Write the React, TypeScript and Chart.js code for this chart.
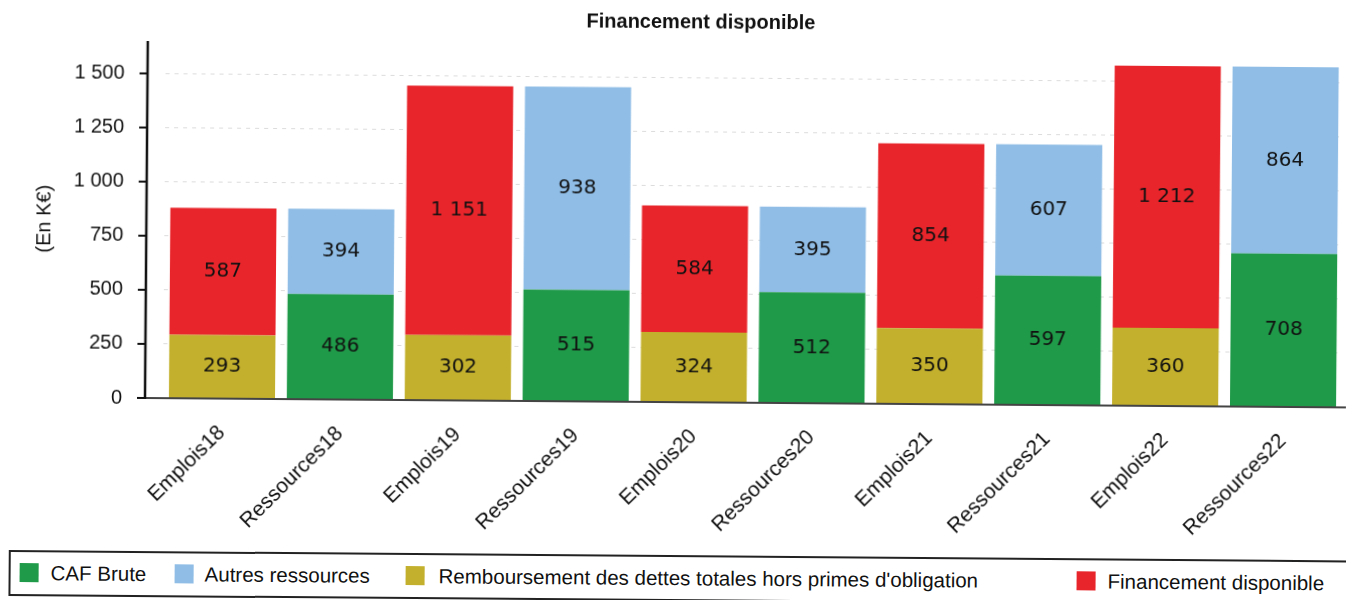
import React, { useEffect, useRef } from "react";
import { Chart, registerables } from "chart.js";

Chart.register(...registerables);

const categories = [
  "Emplois18", "Ressources18", "Emplois19", "Ressources19", "Emplois20",
  "Ressources20", "Emplois21", "Ressources21", "Emplois22", "Ressources22",
];
const cafBrute = [null, 486, null, 515, null, 512, null, 597, null, 708];
const autresRessources = [null, 394, null, 938, null, 395, null, 607, null, 864];
const remboursement = [293, null, 302, null, 324, null, 350, null, 360, null];
const financement = [587, null, 1151, null, 584, null, 854, null, 1212, null];

const chartTitle = "Financement disponible";
const seriesLabels = [
  "CAF Brute",
  "Autres ressources",
  "Remboursement des dettes totales hors primes d'obligation",
  "Financement disponible",
];
const seriesColors = ["#1f9a48", "#8fbde6", "#c3b02c", "#e8252b"];
const yTicks = [0, 250, 500, 750, 1000, 1250, 1500];
const yMax = 1650;
const legendPositions = [
  { box: 21, text: 52 },
  { box: 176, text: 206 },
  { box: 407, text: 440 },
  { box: 1078, text: 1109 },
];

const fmt = (v: number) => String(Math.round(v)).replace(/\B(?=(\d{3})+(?!\d))/g, " ");

const titlePlugin = {
  id: "customTitle",
  afterDraw(chart: any) {
    const { ctx } = chart;
    ctx.save();
    ctx.font = 'bold 20px "Liberation Sans", Arial, sans-serif';
    ctx.fillStyle = "#111";
    ctx.textAlign = "center";
    ctx.textBaseline = "middle";
    ctx.fillText(chartTitle, 698, 18);
    ctx.restore();
  },
};

const axisPlugin = {
  id: "axisLines",
  afterDatasetsDraw(chart: any) {
    const { ctx, chartArea } = chart;
    const yScale = chart.scales.y;
    const axX = chartArea.left - 18;
    ctx.save();
    ctx.strokeStyle = "#444";
    ctx.lineWidth = 2;
    ctx.beginPath();
    ctx.moveTo(axX - 8, chartArea.bottom);
    ctx.lineTo(chart.width, chartArea.bottom);
    ctx.stroke();
    ctx.strokeStyle = "#111";
    ctx.lineWidth = 2.5;
    ctx.beginPath();
    ctx.moveTo(axX, chartArea.top);
    ctx.lineTo(axX, chartArea.bottom + 1);
    ctx.stroke();
    ctx.lineWidth = 2;
    yTicks.forEach((t) => {
      const py = yScale.getPixelForValue(t);
      ctx.beginPath();
      ctx.moveTo(axX - 8, py);
      ctx.lineTo(axX, py);
      ctx.stroke();
    });
    ctx.restore();
  },
};

const labelPlugin = {
  id: "valueLabels",
  afterDatasetsDraw(chart: any) {
    const { ctx } = chart;
    ctx.save();
    ctx.font = '20px "DejaVu Sans"';
    ctx.fillStyle = "#111";
    ctx.textAlign = "center";
    ctx.textBaseline = "middle";
    chart.data.datasets.forEach((ds: any, di: number) => {
      const meta = chart.getDatasetMeta(di);
      meta.data.forEach((el: any, i: number) => {
        const v = ds.data[i];
        if (v === null || v === undefined) return;
        ctx.fillText(fmt(v), el.x, (el.y + el.base) / 2);
      });
    });
    ctx.restore();
  },
};

export default function App() {
  const canvasRef = useRef<HTMLCanvasElement | null>(null);

  useEffect(() => {
    if (!canvasRef.current) return;
    Chart.defaults.font.family = '"Liberation Sans", Arial, sans-serif';
    Chart.defaults.color = "#111";
    const seriesData = [cafBrute, autresRessources, remboursement, financement];
    const chart = new Chart(canvasRef.current, {
      type: "bar",
      data: {
        labels: categories,
        datasets: seriesLabels.map((label, i) => ({
          label,
          data: seriesData[i],
          backgroundColor: seriesColors[i],
          borderWidth: 0,
          barPercentage: 0.9,
          categoryPercentage: 1,
        })),
      },
      options: {
        responsive: false,
        animation: false,
        layout: { autoPadding: false, padding: { left: 0, right: 4, top: 41, bottom: 0 } },
        plugins: {
          legend: { display: false },
          tooltip: { enabled: false },
          title: { display: false },
        },
        scales: {
          x: {
            stacked: true,
            grid: { display: false },
            border: { display: false },
            ticks: {
              font: { size: 21 },
              color: "#111",
              maxRotation: 45,
              minRotation: 45,
              autoSkip: false,
              padding: 14,
            },
            afterFit: (scale: any) => {
              scale.height = 150;
              scale.paddingLeft = 0;
              scale.paddingRight = 0;
            },
          },
          y: {
            stacked: true,
            min: 0,
            max: yMax,
            afterBuildTicks: (scale: any) => {
              scale.ticks = yTicks.map((v) => ({ value: v }));
            },
            grid: { color: "#dcdcdc", drawTicks: false, lineWidth: 1 },
            border: { display: false, dash: [4, 5] },
            ticks: {
              font: { size: 20 },
              color: "#111",
              padding: 41,
              callback: (v: any) => fmt(Number(v)),
            },
            title: {
              display: true,
              text: "(En K€)",
              font: { size: 20 },
              color: "#111",
              padding: { top: 31, bottom: 0 },
            },
            afterFit: (scale: any) => {
              scale.width = 163;
              scale.paddingTop = 0;
              scale.paddingBottom = 0;
            },
          },
        },
      },
      plugins: [axisPlugin, labelPlugin, titlePlugin],
    } as any);
    return () => chart.destroy();
  }, []);

  return (
    <div
      style={{
        position: "absolute",
        left: 0,
        top: 0,
        width: 1346,
        height: 600,
        background: "#fff",
        transform: "rotate(0.45deg)",
        transformOrigin: "145px 398px",
      }}
    >
      <canvas ref={canvasRef} width={1346} height={548} style={{ display: "block" }} />
      <div
        style={{
          position: "absolute",
          left: 10,
          top: 551,
          width: 1340,
          height: 46,
          border: "2.5px solid #222",
          boxSizing: "border-box",
        }}
      />
      {seriesLabels.map((label, i) => (
        <React.Fragment key={label}>
          <div
            style={{
              position: "absolute",
              left: legendPositions[i].box,
              top: 564,
              width: 19,
              height: 19,
              background: seriesColors[i],
            }}
          />
          <div
            style={{
              position: "absolute",
              left: legendPositions[i].text,
              top: 562,
              height: 24,
              lineHeight: "24px",
              fontFamily: '"Liberation Sans", Arial, sans-serif',
              fontSize: 20.5,
              color: "#111",
              whiteSpace: "nowrap",
            }}
          >
            {label}
          </div>
        </React.Fragment>
      ))}
    </div>
  );
}
